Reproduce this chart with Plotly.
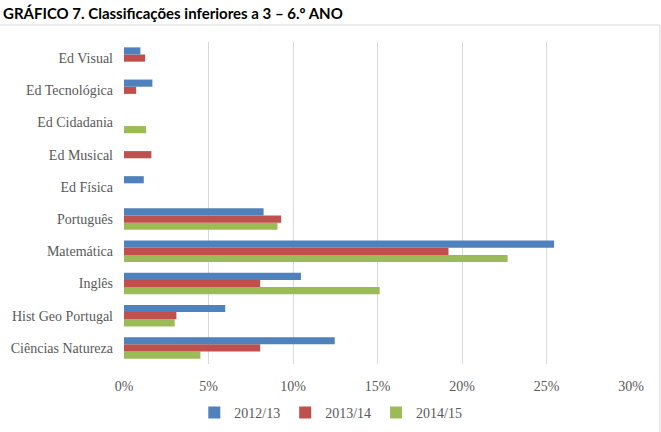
import plotly.graph_objects as go

categories = ["Ciências Natureza", "Hist Geo Portugal", "Inglês", "Matemática", "Português",
              "Ed Física", "Ed Musical", "Ed Cidadania", "Ed Tecnológica", "Ed Visual"]
s2012 = [12.47, 5.99, 10.47, 25.45, 8.26, 1.17, None, None, 1.68, 0.97]
s2013 = [8.06, 3.10, 8.06, 19.20, 9.30, None, 1.62, None, 0.72, 1.25]
s2014 = [4.52, 3.00, 15.13, 22.70, 9.08, None, None, 1.31, None, None]
series_names = ["2012/13", "2013/14", "2014/15"]
colors = ["#4F81BD", "#C0504D", "#9BBB59"]
xticks = [0, 5, 10, 15, 20, 25, 30]
xticklabels = [f"{v}%" for v in xticks]

fig = go.Figure()
for name, vals, col in reversed(list(zip(series_names, [s2012, s2013, s2014], colors))):
    fig.add_trace(go.Bar(y=categories, x=vals, name=name, orientation="h",
                         marker=dict(color=col, line=dict(width=0))))

L, R, T, B = 123.5, 30, 42, 68
W, H = 661, 432
pw, ph = W - L - R, H - T - B
font_fam = "Liberation Serif"
gray = "#595959"

fig.update_layout(
    width=W, height=H,
    margin=dict(l=L, r=R, t=T, b=B, autoexpand=False),
    paper_bgcolor="white", plot_bgcolor="white",
    barmode="group", bargap=0.333, bargroupgap=0,
    xaxis=dict(range=[0, 30], tickvals=xticks, ticktext=xticklabels,
               showgrid=True, gridcolor="#D9D9D9", gridwidth=1, zeroline=False,
               showline=False, ticks="", ticklen=0, ticklabelstandoff=12,
               tickfont=dict(family=font_fam, size=14, color=gray)),
    yaxis=dict(showgrid=False, zeroline=False, showline=False, ticks="",
               ticklabelstandoff=10,
               tickfont=dict(family=font_fam, size=14, color=gray)),
    legend=dict(orientation="h", x=((W / 2) - L) / pw, xanchor="center",
                y=-(413 - (H - B)) / ph, yanchor="middle", traceorder="reversed",
                font=dict(family=font_fam, size=14, color=gray),
                itemwidth=30),
    showlegend=True,
    shapes=[dict(type="rect", xref="paper", yref="paper",
                 x0=(-2 - L) / pw, x1=(660 - L) / pw,
                 y0=-(H + 5 - (H - B)) / ph, y1=(H - B - 25) / ph,
                 line=dict(color="#D9D9D9", width=1), layer="below")],
    annotations=[dict(text="<b>GRÁFICO 7. Classificações inferiores a 3 – 6.º ANO</b>",
                      xref="paper", yref="paper", x=(0 - L) / pw, xanchor="left",
                      y=(H - B - 13) / ph, yanchor="middle", showarrow=False,
                      font=dict(family="Lato", size=15, color="black"))],
)

fig.write_html("out.html")
